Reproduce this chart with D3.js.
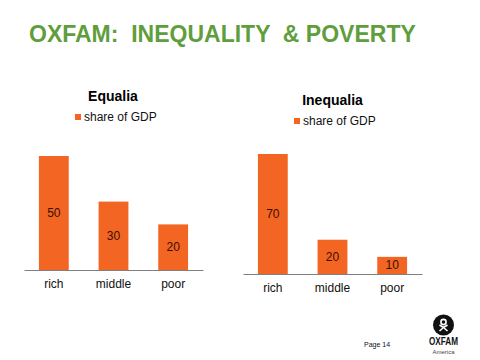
<!DOCTYPE html>
<html>
<head>
<meta charset="utf-8">
<script src="https://cdn.jsdelivr.net/npm/d3@7"></script>
<style>
html, body { margin: 0; padding: 0; background: #fff; }
svg { display: block; font-family: "Liberation Sans", Arial, sans-serif; }
</style>
</head>
<body>
<div id="chart"></div>
<script>
"use strict"

const categories = ["rich", "middle", "poor"];
const equalia_values = [50, 30, 20];
const inequalia_values = [70, 20, 10];
const series_name = "share of GDP";
const page_label = "Page 14";

const ORANGE = "#f26522";

const svg = d3.select("#chart").append("svg")
    .attr("width", 480)
    .attr("height", 360);

svg.append("text")
    .attr("x", 29)
    .attr("y", 42)
    .attr("fill", "#5f9e3c")
    .attr("font-size", 23)
    .attr("font-weight", "bold")
    .style("white-space", "pre")
    .text("OXFAM:  INEQUALITY  & POVERTY");

function draw_panel(title, values, box) {
    // box: axis extent, baseline, pixels per unit and title position
    const x = d3.scaleBand()
        .domain(categories)
        .range([box.left, box.right])
        .paddingInner(0.5)
        .paddingOuter(0.25);

    const y = d3.scaleLinear()
        .domain([0, d3.max(values)])
        .range([box.base, box.top]);

    const g = svg.append("g");

    g.append("text")
        .attr("x", box.title_x)
        .attr("y", box.title_y)
        .attr("text-anchor", "middle")
        .attr("font-size", 14)
        .attr("font-weight", "bold")
        .attr("fill", "#000")
        .text(title);

    // Legend
    g.append("rect")
        .attr("x", box.legend_x)
        .attr("y", box.title_y + 13)
        .attr("width", 6)
        .attr("height", 6)
        .attr("fill", ORANGE);
    g.append("text")
        .attr("x", box.legend_x + 9)
        .attr("y", box.title_y + 20)
        .attr("font-size", 12)
        .attr("fill", "#111")
        .text(series_name);

    // Bars
    g.selectAll("rect.bar")
        .data(values)
        .enter()
        .append("rect")
            .attr("class", "bar")
            .attr("x", (d, i) => x(categories[i]))
            .attr("y", d => y(d))
            .attr("width", x.bandwidth())
            .attr("height", d => box.base - y(d))
            .attr("fill", ORANGE);

    // Value labels, centred in the bars
    g.selectAll("text.value")
        .data(values)
        .enter()
        .append("text")
            .attr("class", "value")
            .attr("x", (d, i) => x(categories[i]) + x.bandwidth() / 2)
            .attr("y", d => (y(d) + box.base) / 2 + 4)
            .attr("text-anchor", "middle")
            .attr("font-size", 12)
            .attr("fill", "#3a0f00")
            .text(d => d);

    // Axis
    const axis = d3.axisBottom(x).tickSize(0).tickPadding(9);
    const axis_g = g.append("g")
        .attr("transform", "translate(0," + box.base + ")")
        .call(axis);
    axis_g.select(".domain").attr("stroke", "#808080").attr("stroke-width", 1);
    axis_g.selectAll("text")
        .attr("font-size", 12)
        .attr("font-family", "Liberation Sans, Arial, sans-serif")
        .attr("fill", "#111");
}

draw_panel("Equalia", equalia_values, {
    left: 24, right: 203, top: 156, base: 270,
    title_x: 113, title_y: 101, legend_x: 75
});
draw_panel("Inequalia", inequalia_values, {
    left: 243, right: 422, top: 154, base: 274,
    title_x: 332.5, title_y: 105, legend_x: 294
});

svg.append("text")
    .attr("x", 364)
    .attr("y", 347)
    .attr("font-size", 7)
    .attr("fill", "#111")
    .text(page_label);

// Logo
const logo = svg.append("g").attr("transform", "translate(443.5,325)");
logo.append("circle").attr("r", 10.5).attr("fill", "#111");
logo.append("circle").attr("cy", -3).attr("r", 2.6)
    .attr("fill", "none").attr("stroke", "#fff").attr("stroke-width", 1.6);
logo.append("path")
    .attr("d", "M-4,0 L0,2.5 L4,0 M0,2.5 L-4,6 M0,2.5 L4,6")
    .attr("fill", "none").attr("stroke", "#fff").attr("stroke-width", 1.6);
logo.append("text")
    .attr("y", 20)
    .attr("text-anchor", "middle")
    .attr("font-size", 10)
    .attr("font-weight", "bold")
    .attr("fill", "#111")
    .attr("textLength", 29)
    .attr("lengthAdjust", "spacingAndGlyphs")
    .text("OXFAM");
logo.append("text")
    .attr("y", 28.5)
    .attr("text-anchor", "middle")
    .attr("font-size", 6)
    .attr("fill", "#444")
    .text("America");
</script>
</body>
</html>
